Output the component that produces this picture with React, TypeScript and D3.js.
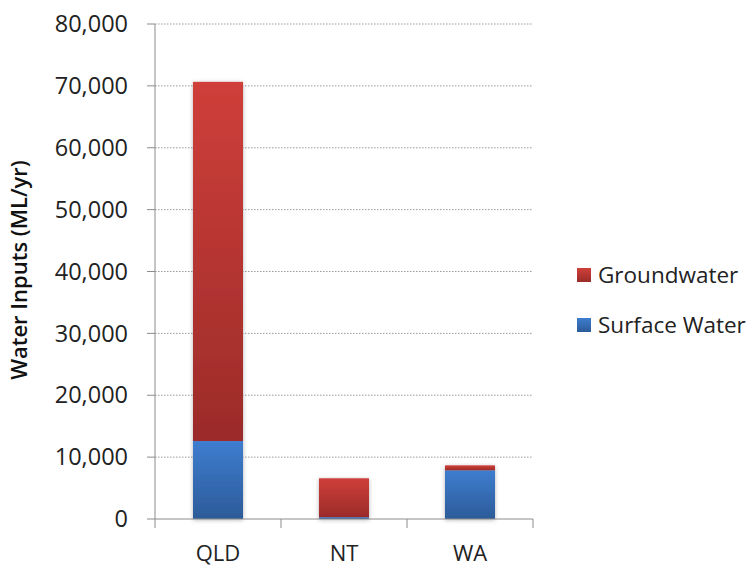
import React from "react";
import * as d3 from "d3";

const categories = ["QLD", "NT", "WA"];
const surfaceWater = [12600, 300, 7870];
const groundwater = [58050, 6280, 800];
const yTicks = [0, 10000, 20000, 30000, 40000, 50000, 60000, 70000, 80000];
const seriesNames = ["Groundwater", "Surface Water"];

export default function App() {
  const W = 754, H = 571;
  const left = 155, right = 533, top = 24, bottom = 519;
  const x = d3.scaleBand().domain(categories).range([left, right]).paddingInner(0).paddingOuter(0);
  const y = d3.scaleLinear().domain([0, 80000]).range([bottom, top]);
  const barW = 50;
  const fmt = d3.format(",");
  const font = "'Open Sans', sans-serif";

  return (
    <svg width={W} height={H} style={{ position: "absolute", left: 0, top: 0 }}>
      <defs>
        <linearGradient id="gRed" x1="0" y1="0" x2="0" y2="1">
          <stop offset="0%" stopColor="#cf3f3a" />
          <stop offset="100%" stopColor="#9b2b29" />
        </linearGradient>
        <linearGradient id="gBlue" x1="0" y1="0" x2="0" y2="1">
          <stop offset="0%" stopColor="#3e7dcf" />
          <stop offset="100%" stopColor="#2c5b99" />
        </linearGradient>
        <filter id="sh" x="-20%" y="-5%" width="140%" height="115%">
          <feDropShadow dx="0" dy="1" stdDeviation="2" floodColor="#000" floodOpacity="0.3" />
        </filter>
      </defs>
      <rect width={W} height={H} fill="#fff" />
      {yTicks.filter((t) => t > 0).map((t) => (
        <line key={"g" + t} x1={left} x2={right} y1={y(t)} y2={y(t)} stroke="#9a9a9a" strokeWidth={1} strokeDasharray="1.5,1.5" />
      ))}
      {categories.map((c, i) => {
        const cx = (x(c) as number) + x.bandwidth() / 2;
        const s = surfaceWater[i];
        const g = groundwater[i];
        return (
          <g key={c} filter="url(#sh)">
            <rect x={cx - barW / 2} y={y(s)} width={barW} height={y(0) - y(s)} fill="url(#gBlue)" />
            <rect x={cx - barW / 2} y={y(s + g)} width={barW} height={y(s) - y(s + g)} fill="url(#gRed)" />
          </g>
        );
      })}
      <line x1={left} x2={left} y1={top} y2={bottom} stroke="#8c8c8c" />
      <line x1={left} x2={right} y1={bottom} y2={bottom} stroke="#8c8c8c" />
      {yTicks.map((t) => (
        <g key={"t" + t}>
          <line x1={left - 8} x2={left} y1={y(t)} y2={y(t)} stroke="#8c8c8c" />
          <text x={128} y={y(t)} dy="0.35em" textAnchor="end" fontFamily={font} fontSize={23.5} fill="#222">
            {fmt(t)}
          </text>
        </g>
      ))}
      {[0, 1, 2, 3].map((i) => {
        const xx = left + i * x.bandwidth();
        return <line key={"xt" + i} x1={xx} x2={xx} y1={bottom} y2={bottom + 9} stroke="#8c8c8c" />;
      })}
      {categories.map((c) => (
        <text key={"l" + c} x={(x(c) as number) + x.bandwidth() / 2} y={561} textAnchor="middle" fontFamily={font} fontSize={22} fill="#222">
          {c}
        </text>
      ))}
      <text transform={`translate(27,${270}) rotate(-90)`} textAnchor="middle" fontFamily={font} fontSize={22} fontWeight="600" fill="#111">
        Water Inputs (ML/yr)
      </text>
      {seriesNames.map((n, i) => (
        <g key={n} transform={`translate(577,${268 + i * 50})`}>
          <rect x={0} y={0} width={14} height={14} fill={i === 0 ? "url(#gRed)" : "url(#gBlue)"} />
          <text x={21} y={7} dy="0.36em" fontFamily={font} fontSize={22.5} fill="#222">
            {n}
          </text>
        </g>
      ))}
    </svg>
  );
}
